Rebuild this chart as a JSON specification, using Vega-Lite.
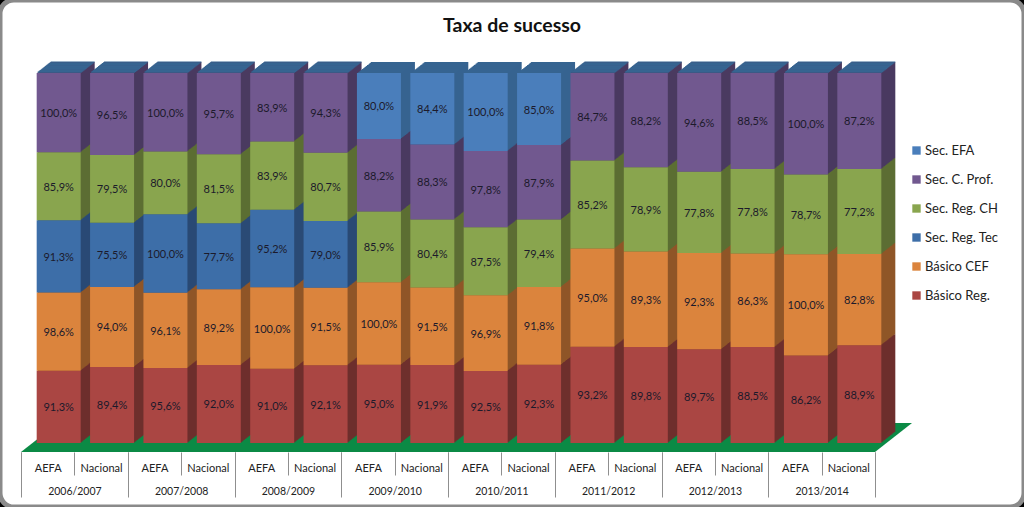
{"$schema":"https://vega.github.io/schema/vega-lite/v6.json","width":1024,"height":507,"autosize":"none","padding":0,"background":"#000000",
"title":{"text":"Taxa de sucesso","orient":"top","anchor":"middle","offset":-36,"font":"Lato","fontSize":19.5,"fontWeight":"bold","color":"#111111"},
"config":{"view":{"fill":"#ffffff","stroke":"#8a8a8a","strokeWidth":5,"cornerRadius":14},"locale":{"number":{"decimal":",","thousands":".","grouping":[3],"currency":["","€"],"percent":"%"}}},
"resolve":{"scale":{"x":"independent","y":"independent","fill":"independent"}},
"data":{"values":[
{"cat":"2006/2007 AEFA","ano":"2006/2007","serie":"Básico Reg.","ordem":1,"v":0.913},{"cat":"2006/2007 AEFA","ano":"2006/2007","serie":"Básico CEF","ordem":2,"v":0.986},{"cat":"2006/2007 AEFA","ano":"2006/2007","serie":"Sec. Reg. Tec","ordem":3,"v":0.913},{"cat":"2006/2007 AEFA","ano":"2006/2007","serie":"Sec. Reg. CH","ordem":4,"v":0.859},{"cat":"2006/2007 AEFA","ano":"2006/2007","serie":"Sec. C. Prof.","ordem":5,"v":1.0},{"cat":"2006/2007 AEFA","ano":"2006/2007","serie":"Sec. EFA","ordem":6,"v":0},
{"cat":"2006/2007 Nacional","ano":"2006/2007","serie":"Básico Reg.","ordem":1,"v":0.894},{"cat":"2006/2007 Nacional","ano":"2006/2007","serie":"Básico CEF","ordem":2,"v":0.94},{"cat":"2006/2007 Nacional","ano":"2006/2007","serie":"Sec. Reg. Tec","ordem":3,"v":0.755},{"cat":"2006/2007 Nacional","ano":"2006/2007","serie":"Sec. Reg. CH","ordem":4,"v":0.795},{"cat":"2006/2007 Nacional","ano":"2006/2007","serie":"Sec. C. Prof.","ordem":5,"v":0.965},{"cat":"2006/2007 Nacional","ano":"2006/2007","serie":"Sec. EFA","ordem":6,"v":0},
{"cat":"2007/2008 AEFA","ano":"2007/2008","serie":"Básico Reg.","ordem":1,"v":0.956},{"cat":"2007/2008 AEFA","ano":"2007/2008","serie":"Básico CEF","ordem":2,"v":0.961},{"cat":"2007/2008 AEFA","ano":"2007/2008","serie":"Sec. Reg. Tec","ordem":3,"v":1.0},{"cat":"2007/2008 AEFA","ano":"2007/2008","serie":"Sec. Reg. CH","ordem":4,"v":0.8},{"cat":"2007/2008 AEFA","ano":"2007/2008","serie":"Sec. C. Prof.","ordem":5,"v":1.0},{"cat":"2007/2008 AEFA","ano":"2007/2008","serie":"Sec. EFA","ordem":6,"v":0},
{"cat":"2007/2008 Nacional","ano":"2007/2008","serie":"Básico Reg.","ordem":1,"v":0.92},{"cat":"2007/2008 Nacional","ano":"2007/2008","serie":"Básico CEF","ordem":2,"v":0.892},{"cat":"2007/2008 Nacional","ano":"2007/2008","serie":"Sec. Reg. Tec","ordem":3,"v":0.777},{"cat":"2007/2008 Nacional","ano":"2007/2008","serie":"Sec. Reg. CH","ordem":4,"v":0.815},{"cat":"2007/2008 Nacional","ano":"2007/2008","serie":"Sec. C. Prof.","ordem":5,"v":0.957},{"cat":"2007/2008 Nacional","ano":"2007/2008","serie":"Sec. EFA","ordem":6,"v":0},
{"cat":"2008/2009 AEFA","ano":"2008/2009","serie":"Básico Reg.","ordem":1,"v":0.91},{"cat":"2008/2009 AEFA","ano":"2008/2009","serie":"Básico CEF","ordem":2,"v":1.0},{"cat":"2008/2009 AEFA","ano":"2008/2009","serie":"Sec. Reg. Tec","ordem":3,"v":0.952},{"cat":"2008/2009 AEFA","ano":"2008/2009","serie":"Sec. Reg. CH","ordem":4,"v":0.839},{"cat":"2008/2009 AEFA","ano":"2008/2009","serie":"Sec. C. Prof.","ordem":5,"v":0.839},{"cat":"2008/2009 AEFA","ano":"2008/2009","serie":"Sec. EFA","ordem":6,"v":0},
{"cat":"2008/2009 Nacional","ano":"2008/2009","serie":"Básico Reg.","ordem":1,"v":0.921},{"cat":"2008/2009 Nacional","ano":"2008/2009","serie":"Básico CEF","ordem":2,"v":0.915},{"cat":"2008/2009 Nacional","ano":"2008/2009","serie":"Sec. Reg. Tec","ordem":3,"v":0.79},{"cat":"2008/2009 Nacional","ano":"2008/2009","serie":"Sec. Reg. CH","ordem":4,"v":0.807},{"cat":"2008/2009 Nacional","ano":"2008/2009","serie":"Sec. C. Prof.","ordem":5,"v":0.943},{"cat":"2008/2009 Nacional","ano":"2008/2009","serie":"Sec. EFA","ordem":6,"v":0},
{"cat":"2009/2010 AEFA","ano":"2009/2010","serie":"Básico Reg.","ordem":1,"v":0.95},{"cat":"2009/2010 AEFA","ano":"2009/2010","serie":"Básico CEF","ordem":2,"v":1.0},{"cat":"2009/2010 AEFA","ano":"2009/2010","serie":"Sec. Reg. CH","ordem":4,"v":0.859},{"cat":"2009/2010 AEFA","ano":"2009/2010","serie":"Sec. C. Prof.","ordem":5,"v":0.882},{"cat":"2009/2010 AEFA","ano":"2009/2010","serie":"Sec. EFA","ordem":6,"v":0.8},
{"cat":"2009/2010 Nacional","ano":"2009/2010","serie":"Básico Reg.","ordem":1,"v":0.919},{"cat":"2009/2010 Nacional","ano":"2009/2010","serie":"Básico CEF","ordem":2,"v":0.915},{"cat":"2009/2010 Nacional","ano":"2009/2010","serie":"Sec. Reg. CH","ordem":4,"v":0.804},{"cat":"2009/2010 Nacional","ano":"2009/2010","serie":"Sec. C. Prof.","ordem":5,"v":0.883},{"cat":"2009/2010 Nacional","ano":"2009/2010","serie":"Sec. EFA","ordem":6,"v":0.844},
{"cat":"2010/2011 AEFA","ano":"2010/2011","serie":"Básico Reg.","ordem":1,"v":0.925},{"cat":"2010/2011 AEFA","ano":"2010/2011","serie":"Básico CEF","ordem":2,"v":0.969},{"cat":"2010/2011 AEFA","ano":"2010/2011","serie":"Sec. Reg. CH","ordem":4,"v":0.875},{"cat":"2010/2011 AEFA","ano":"2010/2011","serie":"Sec. C. Prof.","ordem":5,"v":0.978},{"cat":"2010/2011 AEFA","ano":"2010/2011","serie":"Sec. EFA","ordem":6,"v":1.0},
{"cat":"2010/2011 Nacional","ano":"2010/2011","serie":"Básico Reg.","ordem":1,"v":0.923},{"cat":"2010/2011 Nacional","ano":"2010/2011","serie":"Básico CEF","ordem":2,"v":0.918},{"cat":"2010/2011 Nacional","ano":"2010/2011","serie":"Sec. Reg. CH","ordem":4,"v":0.794},{"cat":"2010/2011 Nacional","ano":"2010/2011","serie":"Sec. C. Prof.","ordem":5,"v":0.879},{"cat":"2010/2011 Nacional","ano":"2010/2011","serie":"Sec. EFA","ordem":6,"v":0.85},
{"cat":"2011/2012 AEFA","ano":"2011/2012","serie":"Básico Reg.","ordem":1,"v":0.932},{"cat":"2011/2012 AEFA","ano":"2011/2012","serie":"Básico CEF","ordem":2,"v":0.95},{"cat":"2011/2012 AEFA","ano":"2011/2012","serie":"Sec. Reg. CH","ordem":4,"v":0.852},{"cat":"2011/2012 AEFA","ano":"2011/2012","serie":"Sec. C. Prof.","ordem":5,"v":0.847},{"cat":"2011/2012 AEFA","ano":"2011/2012","serie":"Sec. EFA","ordem":6,"v":0},
{"cat":"2011/2012 Nacional","ano":"2011/2012","serie":"Básico Reg.","ordem":1,"v":0.898},{"cat":"2011/2012 Nacional","ano":"2011/2012","serie":"Básico CEF","ordem":2,"v":0.893},{"cat":"2011/2012 Nacional","ano":"2011/2012","serie":"Sec. Reg. CH","ordem":4,"v":0.789},{"cat":"2011/2012 Nacional","ano":"2011/2012","serie":"Sec. C. Prof.","ordem":5,"v":0.882},{"cat":"2011/2012 Nacional","ano":"2011/2012","serie":"Sec. EFA","ordem":6,"v":0},
{"cat":"2012/2013 AEFA","ano":"2012/2013","serie":"Básico Reg.","ordem":1,"v":0.897},{"cat":"2012/2013 AEFA","ano":"2012/2013","serie":"Básico CEF","ordem":2,"v":0.923},{"cat":"2012/2013 AEFA","ano":"2012/2013","serie":"Sec. Reg. CH","ordem":4,"v":0.778},{"cat":"2012/2013 AEFA","ano":"2012/2013","serie":"Sec. C. Prof.","ordem":5,"v":0.946},{"cat":"2012/2013 AEFA","ano":"2012/2013","serie":"Sec. EFA","ordem":6,"v":0},
{"cat":"2012/2013 Nacional","ano":"2012/2013","serie":"Básico Reg.","ordem":1,"v":0.885},{"cat":"2012/2013 Nacional","ano":"2012/2013","serie":"Básico CEF","ordem":2,"v":0.863},{"cat":"2012/2013 Nacional","ano":"2012/2013","serie":"Sec. Reg. CH","ordem":4,"v":0.778},{"cat":"2012/2013 Nacional","ano":"2012/2013","serie":"Sec. C. Prof.","ordem":5,"v":0.885},{"cat":"2012/2013 Nacional","ano":"2012/2013","serie":"Sec. EFA","ordem":6,"v":0},
{"cat":"2013/2014 AEFA","ano":"2013/2014","serie":"Básico Reg.","ordem":1,"v":0.862},{"cat":"2013/2014 AEFA","ano":"2013/2014","serie":"Básico CEF","ordem":2,"v":1.0},{"cat":"2013/2014 AEFA","ano":"2013/2014","serie":"Sec. Reg. CH","ordem":4,"v":0.787},{"cat":"2013/2014 AEFA","ano":"2013/2014","serie":"Sec. C. Prof.","ordem":5,"v":1.0},{"cat":"2013/2014 AEFA","ano":"2013/2014","serie":"Sec. EFA","ordem":6,"v":0},
{"cat":"2013/2014 Nacional","ano":"2013/2014","serie":"Básico Reg.","ordem":1,"v":0.889},{"cat":"2013/2014 Nacional","ano":"2013/2014","serie":"Básico CEF","ordem":2,"v":0.828},{"cat":"2013/2014 Nacional","ano":"2013/2014","serie":"Sec. Reg. CH","ordem":4,"v":0.772},{"cat":"2013/2014 Nacional","ano":"2013/2014","serie":"Sec. C. Prof.","ordem":5,"v":0.872},{"cat":"2013/2014 Nacional","ano":"2013/2014","serie":"Sec. EFA","ordem":6,"v":0}
]},
"layer":[
{"data":{"values":[{"pos":0,"cima":0,"baixo":0},{"pos":0.0415,"cima":1,"baixo":0},{"pos":0.9585,"cima":1,"baixo":0},{"pos":1,"cima":1,"baixo":1}]},
 "mark":{"type":"area","orient":"vertical","color":"#0b8a45"},
 "encoding":{"x":{"field":"pos","type":"quantitative","axis":null,"scale":{"domain":[0,1],"range":[21,912]}},"y":{"field":"cima","type":"quantitative","stack":null,"axis":null,"scale":{"domain":[0,1],"range":[452,423]}},"y2":{"field":"baixo"}}},
{"encoding":{
"x":{"field":"cat","type":"nominal","sort":null,"axis":null,"scale":{"type":"band","range":[21,875],"padding":0}},
"y":{"field":"v","type":"quantitative","stack":"normalize","axis":null,"scale":{"range":[443,73]}},
"order":{"field":"ordem","type":"quantitative"},
"fill":{"field":"serie","type":"nominal","legend":null,"scale":{"domain":["Sec. EFA","Sec. C. Prof.","Sec. Reg. CH","Sec. Reg. Tec","Básico CEF","Básico Reg."],"range":["#376491","#4a3a60","#5c6e33","#2a4a75","#8f5628","#6e2f2d"]}},
"stroke":{"condition":{"test":"datum.v===0","value":"#376491"},"value":"transparent"}
},
"resolve":{"scale":{"x":"independent","y":"independent","fill":"independent"}},
"layer":[
{"mark":{"type":"bar","width":44,"xOffset":25,"yOffset":-11,"strokeWidth":1.2}},
{"mark":{"type":"bar","width":44,"xOffset":24,"yOffset":-10.2,"strokeWidth":1.2}},
{"mark":{"type":"bar","width":44,"xOffset":23,"yOffset":-9.4,"strokeWidth":1.2}},
{"mark":{"type":"bar","width":44,"xOffset":22,"yOffset":-8.6,"strokeWidth":1.2}},
{"mark":{"type":"bar","width":44,"xOffset":21,"yOffset":-7.9,"strokeWidth":1.2}},
{"mark":{"type":"bar","width":44,"xOffset":20,"yOffset":-7.1,"strokeWidth":1.2}},
{"mark":{"type":"bar","width":44,"xOffset":19,"yOffset":-6.3,"strokeWidth":1.2}},
{"mark":{"type":"bar","width":44,"xOffset":18,"yOffset":-5.5,"strokeWidth":1.2}},
{"mark":{"type":"bar","width":44,"xOffset":17,"yOffset":-4.7,"strokeWidth":1.2}},
{"mark":{"type":"bar","width":44,"xOffset":16,"yOffset":-3.9,"strokeWidth":1.2}},
{"mark":{"type":"bar","width":44,"xOffset":15,"yOffset":-3.1,"strokeWidth":1.2}},
{"mark":{"type":"bar","width":44,"xOffset":14,"yOffset":-2.4,"strokeWidth":1.2}},
{"mark":{"type":"bar","width":44,"xOffset":13,"yOffset":-1.6,"strokeWidth":1.2}},
{"mark":{"type":"bar","width":44,"xOffset":12,"yOffset":-0.8,"strokeWidth":1.2}},
{"mark":{"type":"bar","width":44,"xOffset":11},
 "encoding":{
 "x":{"field":"cat","type":"nominal","sort":null,"title":null,"scale":{"type":"band","range":[21,875],"padding":0},
  "axis":{"orient":"bottom","offset":-55,"domain":false,"grid":false,"tickBand":"extent","tickSize":23,"tickColor":"#8f8f8f","labelAngle":0,"labelAlign":"center","labelBaseline":"middle","labelPadding":-7,"labelExpr":"split(datum.label,' ')[1]","labelFont":"Lato","labelFontSize":11,"labelColor":"#222222","title":null}},
 "fill":{"field":"serie","type":"nominal","title":null,"scale":{"domain":["Sec. EFA","Sec. C. Prof.","Sec. Reg. CH","Sec. Reg. Tec","Básico CEF","Básico Reg."],"range":["#4a7ebb","#71588f","#89a54e","#3d6ea8","#db843d","#aa4643"]},
  "legend":{"orient":"none","legendX":910,"legendY":144,"title":null,"symbolType":"square","symbolSize":70,"symbolStrokeWidth":0,"rowPadding":15,"labelFont":"Lato","labelFontSize":13,"labelColor":"#222222","labelOffset":2}},
 "stroke":{"value":"transparent"}}},
{"mark":{"type":"text","font":"Lato","fontSize":11,"dx":11,"dy":1.5,"color":"#1c1a2b"},
 "transform":[{"filter":"datum.v>0"}],
 "encoding":{"y":{"field":"v","type":"quantitative","stack":"normalize","bandPosition":0.5,"axis":null,"scale":{"range":[443,73]}},"detail":{"field":"serie"},"fill":{"value":"#1c1a2b"},"stroke":{"value":null},"text":{"field":"v","type":"quantitative","format":".1%"}}},
{"mark":{"type":"bar","opacity":0},
 "encoding":{"x":{"field":"ano","type":"nominal","sort":null,"title":null,"scale":{"type":"band","range":[21,875],"padding":0},
  "axis":{"orient":"bottom","offset":-55,"domain":false,"grid":false,"tickBand":"extent","tickSize":45,"tickColor":"#8f8f8f","labelAngle":0,"labelAlign":"center","labelBaseline":"middle","labelPadding":-6,"labelFont":"Lato","labelFontSize":10.5,"labelColor":"#222222","title":null}},"fill":{"value":"#ffffff"},"stroke":{"value":"transparent"}}}
]}
]}
